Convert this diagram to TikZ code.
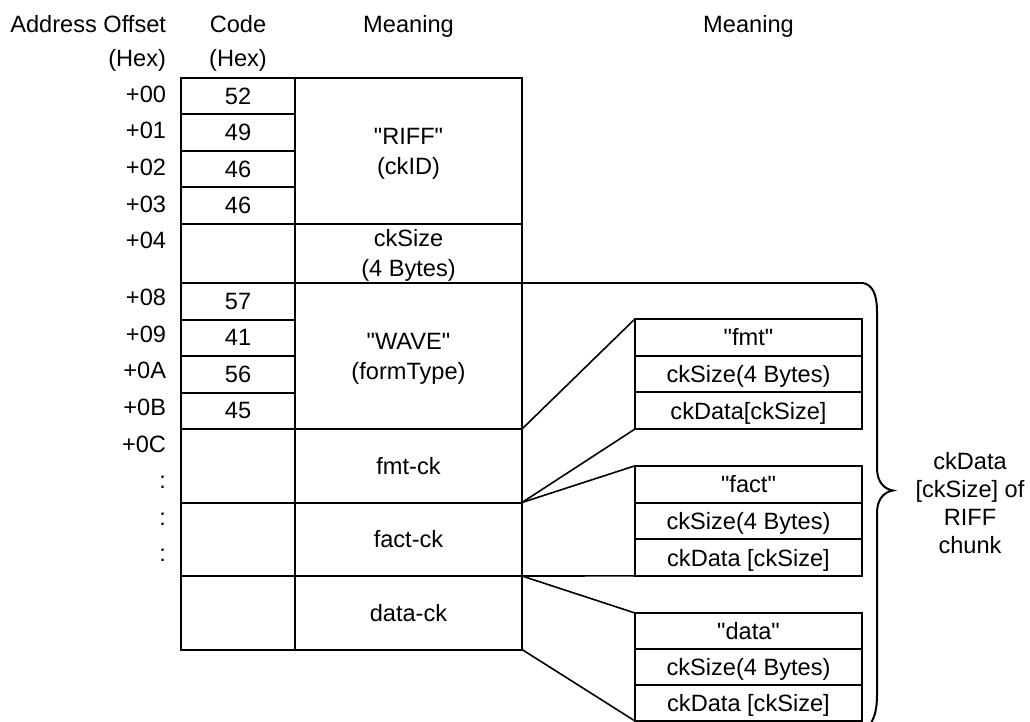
\documentclass[tikz,border=0pt]{standalone}
\usepackage{fontspec}
\setmainfont{Liberation Sans}
\newcommand{\dq}{\XeTeXglyph\XeTeXcharglyph"22\relax}
\begin{document}
\begin{tikzpicture}[x=1pt,y=-1pt,line width=2pt,
  txt/.style={font=\fontsize{23.6}{29.5}\selectfont, inner sep=0pt, outer sep=0pt},
  box/.style={draw, line width=2pt, inner sep=0pt, outer sep=0pt, anchor=north west,
              font=\fontsize{23.6}{29.5}\selectfont, align=center},
  one/.style={text depth=0pt},
  codecell/.style={box, one, minimum width=114, minimum height=#1},
  meancell/.style={box, minimum width=227, minimum height=#1},
  subcell/.style={box, one, minimum width=227, minimum height=#1},
  conn/.style={line width=1.6pt}]
\useasboundingbox (0,0) rectangle (1030,722);

% headers
\node[txt,anchor=base east] (hao) at (166,32.5) {Address Offset};
\node[txt,anchor=base east] (hah) at (166,67) {(Hex)};
\node[txt,anchor=base] (hc) at (238,32.5) {Code};
\node[txt,anchor=base] (hch) at (238,67) {(Hex)};
\node[txt,anchor=base] (hm1) at (408.5,32.5) {Meaning};
\node[txt,anchor=base] (hm2) at (748.5,32.5) {Meaning};

% offsets
\node[txt,anchor=base east] (o00) at (166,102.5) {+00};
\node[txt,anchor=base east] (o01) at (166,139) {+01};
\node[txt,anchor=base east] (o02) at (166,175.5) {+02};
\node[txt,anchor=base east] (o03) at (166,212) {+03};
\node[txt,anchor=base east] (o04) at (166,248.5) {+04};
\node[txt,anchor=base east] (o08) at (166,305.5) {+08};
\node[txt,anchor=base east] (o09) at (166,342) {+09};
\node[txt,anchor=base east] (o0A) at (166,378.5) {+0A};
\node[txt,anchor=base east] (o0B) at (166,415) {+0B};
\node[txt,anchor=base east] (o0C) at (166,452) {+0C};
\node[txt,anchor=base east] (od1) at (166,488.5) {:};
\node[txt,anchor=base east] (od2) at (166,525) {:};
\node[txt,anchor=base east] (od3) at (166,561.5) {:};

% code column
\node[codecell=36.5] (c0) at (181,78) {52};
\node[codecell=36.5] (c1) at (181,114.5) {49};
\node[codecell=36.5] (c2) at (181,151) {46};
\node[codecell=36.5] (c3) at (181,187.5) {46};
\node[codecell=59] (c4) at (181,224) {};
\node[codecell=36.5] (c5) at (181,283) {57};
\node[codecell=36.5] (c6) at (181,319.5) {41};
\node[codecell=36.5] (c7) at (181,356) {56};
\node[codecell=36.5] (c8) at (181,392.5) {45};
\node[codecell=73.5] (c9) at (181,429) {};
\node[codecell=73.5] (c10) at (181,502.5) {};
\node[codecell=73.5] (c11) at (181,576) {};

% meaning column
\node[meancell=146] (riff) at (295,78) {};
\node[meancell=59] (cksize) at (295,224) {};
\node[meancell=146] (wave) at (295,283) {};
\node[meancell=73.5,one] (fmtck) at (295,429) {fmt-ck};
\node[meancell=73.5,one] (factck) at (295,502.5) {fact-ck};
\node[meancell=73.5,one] (datack) at (295,576) {data-ck};
\node[txt,align=center] (riffT) at ([yshift=-3pt]riff.center) {\dq RIFF\dq\\(ckID)};
\node[txt,align=center] (cksizeT) at ([yshift=-2pt]cksize.center) {ckSize\\(4 Bytes)};
\node[txt,align=center] (waveT) at ([yshift=-3pt]wave.center) {\dq WAVE\dq\\(formType)};

% sub chunks
\node[subcell=36.7] (fmt1) at (635,318.9) {\dq fmt\dq};
\node[subcell=36.7] (fmt2) at (635,355.6) {ckSize(4 Bytes)};
\node[subcell=36.7] (fmt3) at (635,392.3) {ckData[ckSize]};
\node[subcell=36.7] (fact1) at (635,465.8) {\dq fact\dq};
\node[subcell=36.7] (fact2) at (635,502.5) {ckSize(4 Bytes)};
\node[subcell=36.7] (fact3) at (635,539.2) {ckData [ckSize]};
\node[subcell=36] (data1) at (635,613) {\dq data\dq};
\node[subcell=36] (data2) at (635,649) {ckSize(4 Bytes)};
\node[subcell=36] (data3) at (635,685) {ckData [ckSize]};

% connectors
\draw[conn] (wave.south east) -- (fmt1.north west);
\draw[conn] (fmtck.south east) -- (fmt3.south west);
\draw[conn] (fmtck.south east) -- (fact1.north west);
\draw[conn] (factck.south east) -- (fact3.south west);
\draw[conn] (factck.south east) -- (data1.north west);
\draw[conn] (datack.south east) -- (data3.south west);

% brace
\coordinate (bt) at (863,283);
\draw (cksize.south east) -- (bt);
\draw[line width=2pt] (bt) .. controls (873,285) and (877,295) .. (877,312)
  -- (877,468) .. controls (877,482) and (884,489) .. (893,490.5)
  .. controls (884,492) and (877,499) .. (877,513)
  -- (877,695) .. controls (877,708) and (875,716) .. (871,723);

\node[txt,align=center,font=\fontsize{23.6}{28}\selectfont] (rt) at (970,503.5)
  {ckData\\{}[ckSize] of\\RIFF\\chunk};
\end{tikzpicture}
\end{document}
